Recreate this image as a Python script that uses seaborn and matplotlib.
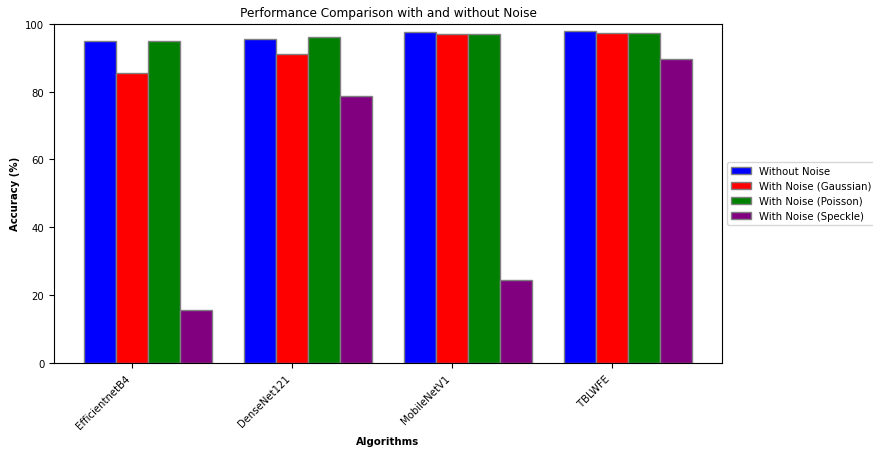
import matplotlib as mpl

mpl.use("Agg")

import matplotlib.pyplot as plt
import seaborn as sns
import numpy as np
import pandas as pd

algorithms = ["EfficientnetB4", "DenseNet121", "MobileNetV1", "TBLWFE"]
conditions = [
    "Without Noise",
    "With Noise (Gaussian)",
    "With Noise (Poisson)",
    "With Noise (Speckle)",
]
without_noise = [95.0, 95.5, 97.5, 98.0]
gaussian = [85.5, 91.2, 96.9, 97.3]
poisson = [95.0, 96.0, 97.1, 97.2]
speckle = [15.6, 78.6, 24.4, 89.7]
colors = ["blue", "red", "green", "purple"]

df = pd.DataFrame(
    {
        "Algorithm": np.repeat(algorithms, 4),
        "Condition": conditions * len(algorithms),
        "Accuracy": np.array([without_noise, gaussian, poisson, speckle]).T.ravel(),
    }
)

fig = plt.figure(figsize=(8.73, 4.52), dpi=100)
ax = fig.add_axes([0.062, 0.195, 0.765, 0.75])

sns.barplot(
    data=df,
    x="Algorithm",
    y="Accuracy",
    hue="Condition",
    hue_order=conditions,
    palette=dict(zip(conditions, colors)),
    width=0.8,
    edgecolor="grey",
    linewidth=1,
    saturation=1,
    errorbar=None,
    ax=ax,
)

# ticks sit under the second bar of every group, like the original
ax.set_xticks(np.arange(len(algorithms)) - 0.1)
ax.set_xticklabels(algorithms, rotation=45, ha="right", fontsize=7.3)
ax.set_xlim(-0.59, len(algorithms) - 0.41)
ax.set_ylim(0, 100)
ax.set_yticks(range(0, 101, 20))
ax.tick_params(axis="y", labelsize=7.3)

ax.set_title("Performance Comparison with and without Noise", fontsize=8.7)
ax.set_xlabel("Algorithms", fontweight="bold", fontsize=7.3)
ax.set_ylabel("Accuracy (%)", fontweight="bold", fontsize=7.3)
ax.legend(loc="center left", bbox_to_anchor=(1, 0.5), fontsize=7.3)

fig.savefig("out.png", dpi=100)
